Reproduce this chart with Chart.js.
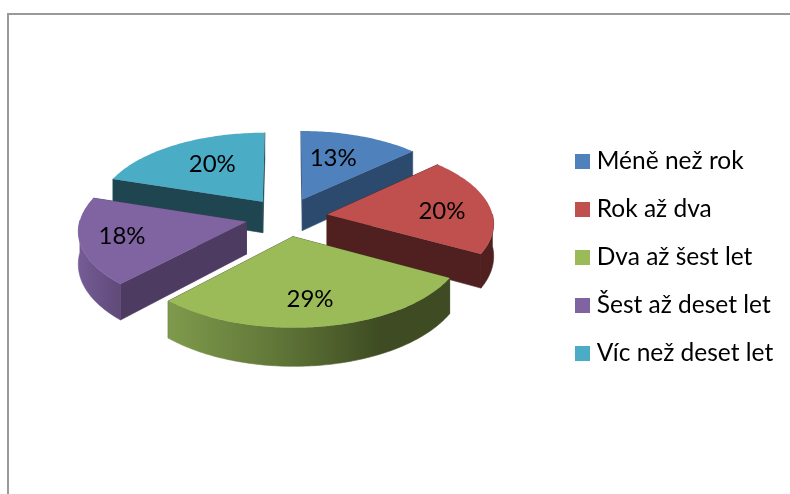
<!DOCTYPE html>
<html>
<head>
<meta charset="utf-8">
<script src="https://cdn.jsdelivr.net/npm/chart.js@4/dist/chart.umd.min.js"></script>
<style>
html,body{margin:0;padding:0;background:#fff;overflow:hidden}
#wrap{position:relative;width:790px;height:494px}
#frame{position:absolute;left:7px;top:13px;right:0;bottom:0;border-top:2px solid #9a9a9a;border-left:2px solid #9a9a9a}
canvas{position:absolute;left:0;top:0}
</style>
</head>
<body>
<div id="wrap"><div id="frame"></div><canvas id="c" width="790" height="494"></canvas></div>
<script>
const categories = ['Méně než rok','Rok až dva','Dva až šest let','Šest až deset let','Víc než deset let'];
const shares = [13,20,29,18,20];
const faceColors = ['#4f81bd','#c0504d','#9bbb59','#8064a2','#4bacc6'];
const sideColors = ['#2c4a6e','#4f201f','#3f4c23','#4e3b61','#1f4650'];
const rimStops = [
  [[0,'#2c4a6e'],[1,'#2c4a6e']],
  [[0,'#4f201f'],[1,'#4f201f']],
  [[0,'#7f9a4c'],[0.4,'#5f7537'],[0.75,'#3f4c23'],[1,'#3f4c23']],
  [[0,'#755c96'],[1,'#5f4a78']],
  [[0,'#1f4650'],[1,'#1f4650']]
];
const labelRadial = [0.61,0.70,0.72,0.75,0.62];
const labelAlong = [0.42,0.55,0.517,0.51,0.55];
const PERSP = 0.000576, TILT = 0.472, THICK = 32;

function project(el, u, v){
  const s = 1/(1-PERSP*v);
  return {x: el.x+u*s, y: el.y+TILT*v*s, d: THICK*Math.pow(s,1.5)};
}
function swatch(color){
  const c = document.createElement('canvas');
  c.width = 15; c.height = 15;
  const g = c.getContext('2d');
  g.fillStyle = color; g.fillRect(0,0,15,15);
  return c;
}
function pie3d(chart){
  const ctx = chart.ctx, meta = chart.getDatasetMeta(0);
  const order = meta.data.map((el,i)=>({el,i,key:Math.sin((el.startAngle+el.endAngle)/2)}))
    .sort((a,b)=>a.key-b.key);
  order.forEach(({el,i})=>{
    const R = el.outerRadius, off = el.options.offset || 0;
    const a0 = el.startAngle, a1 = el.endAngle, mid = (a0+a1)/2;
    const ou = off*Math.cos(mid), ov = off*Math.sin(mid);
    const P = a => project(el, ou+R*Math.cos(a), ov+R*Math.sin(a));
    const apex = project(el, ou, ov);
    const n = Math.max(8, Math.ceil((a1-a0)/(Math.PI/180)));
    const arc = [];
    for(let k=0;k<=n;k++) arc.push(P(a0+(a1-a0)*k/n));
    ctx.fillStyle = sideColors[i];
    ctx.strokeStyle = sideColors[i];
    ctx.lineWidth = 0.6;
    [arc[0],arc[n]].forEach(q=>{
      ctx.beginPath();
      ctx.moveTo(apex.x,apex.y);ctx.lineTo(q.x,q.y);
      ctx.lineTo(q.x,q.y+q.d);ctx.lineTo(apex.x,apex.y+apex.d);
      ctx.closePath();ctx.fill();ctx.stroke();
    });
    const front = [];
    for(let k=0;k<=n;k++){ const a=a0+(a1-a0)*k/n; if(Math.sin(a)>-0.02) front.push(arc[k]); }
    if(front.length>1){
      const xs = front.map(q=>q.x), x0=Math.min(...xs), x1=Math.max(...xs);
      const g = ctx.createLinearGradient(x0,0,x1,0);
      rimStops[i].forEach(s=>g.addColorStop(s[0],s[1]));
      ctx.fillStyle = g;
      ctx.strokeStyle = g;
      ctx.beginPath();
      front.forEach((q,k)=>k?ctx.lineTo(q.x,q.y):ctx.moveTo(q.x,q.y));
      front.slice().reverse().forEach(q=>ctx.lineTo(q.x,q.y+q.d));
      ctx.closePath();ctx.fill();ctx.stroke();
    }
    ctx.fillStyle = faceColors[i];
    ctx.beginPath();
    ctx.moveTo(apex.x,apex.y);
    arc.forEach(q=>ctx.lineTo(q.x,q.y));
    ctx.closePath();ctx.fill();
  });
  ctx.fillStyle = '#000';
  ctx.font = '24px Lato';
  ctx.textAlign = 'center';
  ctx.textBaseline = 'middle';
  meta.data.forEach((el,i)=>{
    const off = el.options.offset||0, mid=(el.startAngle+el.endAngle)/2;
    const a = el.startAngle+(el.endAngle-el.startAngle)*labelAlong[i];
    const r = el.outerRadius*labelRadial[i];
    const q = project(el, off*Math.cos(mid)+r*Math.cos(a), off*Math.sin(mid)+r*Math.sin(a));
    ctx.fillText(shares[i]+'%', q.x, q.y);
  });
}
const pie3dPlugin = {
  id:'pie3d',
  afterLayout(chart){
    const lg = chart.legend, w = lg.right-lg.left;
    lg.left = 556; lg.right = 556+w;
    lg.top += 40; lg.bottom += 40;
  },
  beforeDatasetDraw(chart){ pie3d(chart); return false; }
};
new Chart(document.getElementById('c'),{
  type:'pie',
  data:{labels:categories,datasets:[{data:shares,backgroundColor:faceColors,borderWidth:0,offset:41,radius:166}]},
  options:{
    responsive:false,animation:false,
    layout:{padding:{left:10,right:0,top:0,bottom:60}},
    plugins:{
      tooltip:{enabled:false},
      legend:{position:'right',labels:{
        usePointStyle:true,pointStyleWidth:5,boxHeight:15,padding:23.5,color:'#000',font:{family:'Lato',size:24.5},
        generateLabels(chart){
          return categories.map((text,i)=>({text,index:i,datasetIndex:0,hidden:false,fontColor:'#000',fillStyle:faceColors[i],strokeStyle:faceColors[i],lineWidth:0,pointStyle:swatch(faceColors[i])}));
        }
      }}
    }
  },
  plugins:[pie3dPlugin]
});
</script>
</body>
</html>
